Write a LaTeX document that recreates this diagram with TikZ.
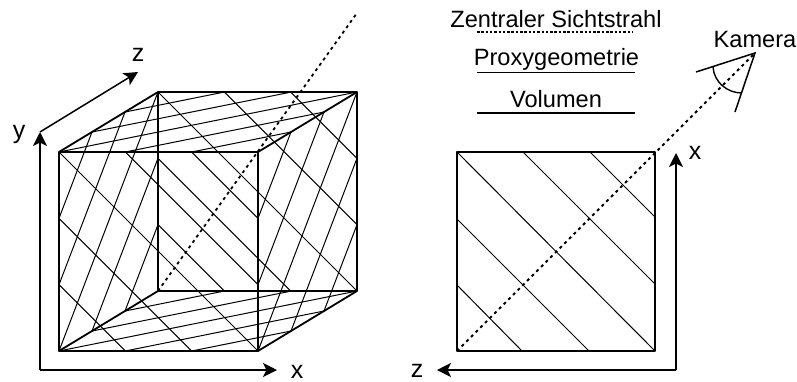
\documentclass[tikz,border=0pt]{standalone}
\usepackage{fontspec}
\setmainfont{Liberation Sans}
\usetikzlibrary{arrows.meta}
\tikzset{
  px/.style={x=1pt,y=-1pt},
  edge/.style={line width=1.8pt,line cap=round,line join=round},
  thin hatch/.style={line width=1pt},
  axis/.style={line width=1.5pt,line join=miter,-{Stealth[length=14pt,width=14pt,inset=3.5pt]}},
  ray/.style={line width=1.8pt,dash pattern=on 3pt off 3.6pt},
  label/.style={font=\fontsize{23.6pt}{25pt}\selectfont,inner sep=0pt,anchor=base},
  axis label/.style={label,font=\fontsize{25pt}{26pt}\selectfont}
}
\begin{document}
\begin{tikzpicture}[px]
\useasboundingbox (0,0) rectangle (797,381);
% left: cube corners
\coordinate (A) at (59,152); \coordinate (B) at (258,152);
\coordinate (C) at (258,351); \coordinate (D) at (59,351);
\coordinate (E) at (158,92); \coordinate (F) at (357,92);
\coordinate (G) at (357,291); \coordinate (H) at (158,291);
\foreach \dx/\dy in {0/0,99/-60}{
 \begin{scope}[shift={(\dx,\dy)}]
 \draw[thin hatch] (59,152)--(258,351) (125.3,152)--(258,284.7) (191.7,152)--(258,218.3)
   (59,218.3)--(191.7,351) (59,284.7)--(125.3,351);
 \end{scope}}
\foreach \dy in {0,199}{
 \begin{scope}[shift={(0,\dy)}]
 \draw[thin hatch] (59,152)--(357,92) (92,132)--(291.5,92) (125,112)--(224.5,92)
   (125.3,152)--(324,112) (191.7,152)--(291,132);
 \end{scope}}
\foreach \dx in {0,199}{
 \begin{scope}[shift={(\dx,0)}]
 \draw[thin hatch] (59,351)--(158,92) (59,218.3)--(92,132) (59,284.7)--(125,112)
   (92,331)--(158,158.3) (125,311)--(158,224.7);
 \end{scope}}
\draw[edge] (A)--(B)--(C)--(D)--cycle (E)--(F)--(G)--(H)--cycle (A)--(E) (B)--(F) (C)--(G) (D)--(H);
\coordinate (rayend) at (357,13);
\draw[ray] (H)--(rayend);
% left axes
\coordinate (o) at (40,370);
\coordinate (yt) at (40,132);
\coordinate (xt) at (277,370);
\coordinate (zt) at (138,72);
\draw[axis] (o)--(yt);
\draw[axis] (o)--(xt);
\draw[axis] (yt)--(zt);
\node[axis label] (ly) at (19,138) {y};
\node[axis label] (lz) at (138,61) {z};
\node[axis label] (lx) at (297,378) {x};
% legend
\node[label] (t1) at (556,27) {Zentraler Sichtstrahl};
\node[label] (t2) at (556.5,65) {Proxygeometrie};
\node[label] (t3) at (556,107) {Volumen};
\coordinate (l1a) at (477,32); \coordinate (l1b) at (632,32);
\coordinate (l2a) at (477,72); \coordinate (l2b) at (635,72);
\coordinate (l3a) at (477,113); \coordinate (l3b) at (635,113);
\draw[line width=1.2pt,dash pattern=on 2.5pt off 1.8pt] (l1a)--(l1b);
\draw[line width=0.9pt] (l2a)--(l2b);
\draw[line width=1.6pt] (l3a)--(l3b);
% right: square
\coordinate (a) at (457,152); \coordinate (b) at (655,152);
\coordinate (c) at (655,351); \coordinate (d) at (457,351);
\draw[thin hatch] (a)--(c) (523,152)--(655,284) (590,152)--(655,217) (457,219)--(589,351) (457,285)--(522,351);
\draw[edge] (a)--(b)--(c)--(d)--cycle;
% camera
\coordinate (cam) at (755,53);
\coordinate (c1) at (696,72); \coordinate (c2) at (735,112);
\draw[ray] (d)--(cam);
\draw[line width=1.5pt] (c1)--(cam)--(c2);
\coordinate (arcA) at (713,67); \coordinate (arcB) at (742,93);
\draw[line width=1.4pt] (arcA) .. controls (714,82) and (727,93) .. (arcB);
\node[label] (kam) at (755,47) {Kamera};
% right axes
\coordinate (o2) at (676,370);
\coordinate (xt2) at (676,153);
\coordinate (zt2) at (437,370);
\draw[axis] (o2)--(xt2);
\draw[axis] (o2)--(zt2);
\node[axis label] (lx2) at (695,159) {x};
\node[axis label] (lz2) at (417,377) {z};
\end{tikzpicture}
\end{document}
